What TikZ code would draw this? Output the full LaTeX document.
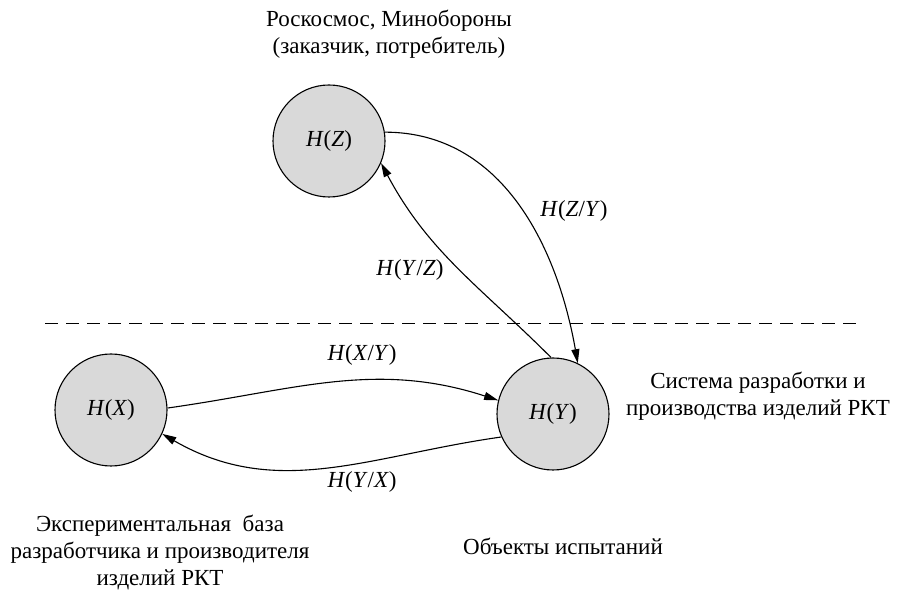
\documentclass[tikz,border=0pt]{standalone}
\usepackage{fontspec}
\setmainfont{Liberation Serif}
\usetikzlibrary{arrows.meta}
\tikzstyle{entropy} = [circle, minimum size=112pt, inner sep=0pt, draw=black, line width=1.1pt, fill=black!15]
\tikzstyle{caption} = [align=center, inner sep=0pt]
\tikzstyle{flowlabel} = [inner sep=0pt]
\tikzstyle{arrow} = [line width=1.1pt, -{Triangle[length=14pt, width=8pt]}]
\tikzstyle{divider} = [line width=0.9pt, dash pattern=on 13pt off 8pt]
\newcommand{\ent}[1]{\textit{H}(\textit{#1})}
\newcommand{\cond}[2]{\textit{H}(\textit{#1}/\textit{#2})}

\begin{document}
\begin{tikzpicture}[x=1pt, y=-1pt, font=\fontsize{23}{27}\selectfont]
\useasboundingbox (0,0) rectangle (903,593);

% Nodes
\node (hz) [entropy] at (329,141) {\ent{Z}};
\node (hx) [entropy] at (111,410) {\ent{X}};
\node (hy) [entropy] at (553,414) {\ent{Y}};

% Captions
\node (customer) [caption] at (389,34) {Роскосмос, Минобороны\\(заказчик, потребитель)};
\node (system) [caption] at (758,396) {Система разработки и\\производства изделий РКТ};
\node (base) [caption] at (160,552) {Экспериментальная~ база\\разработчика и производителя\\изделий РКТ};
\node (objects) [caption] at (563,546) {Объекты испытаний};

% Divider
\coordinate (divL) at (45,323);
\coordinate (divR) at (860,323);
\draw [divider] (divL) -- (divR);

% Arrows
\draw [arrow] (hz.9) to[out=0, in=100] (hy.64);
\draw [arrow] (hy.92) to[out=135, in=-62] (hz.-23);
\draw [arrow] (hx.2) to[out=8, in=162] (hy.166);
\draw [arrow] (hy.204) to[out=188, in=-30] (hx.-25);

% Labels
\node (lzy) [flowlabel] at (574,211) {\cond{Z}{Y}};
\node (lyz) [flowlabel] at (410,270) {\cond{Y}{Z}};
\node (lxy) [flowlabel] at (362,355) {\cond{X}{Y}};
\node (lyx) [flowlabel] at (362,482) {\cond{Y}{X}};

\end{tikzpicture}
\end{document}
